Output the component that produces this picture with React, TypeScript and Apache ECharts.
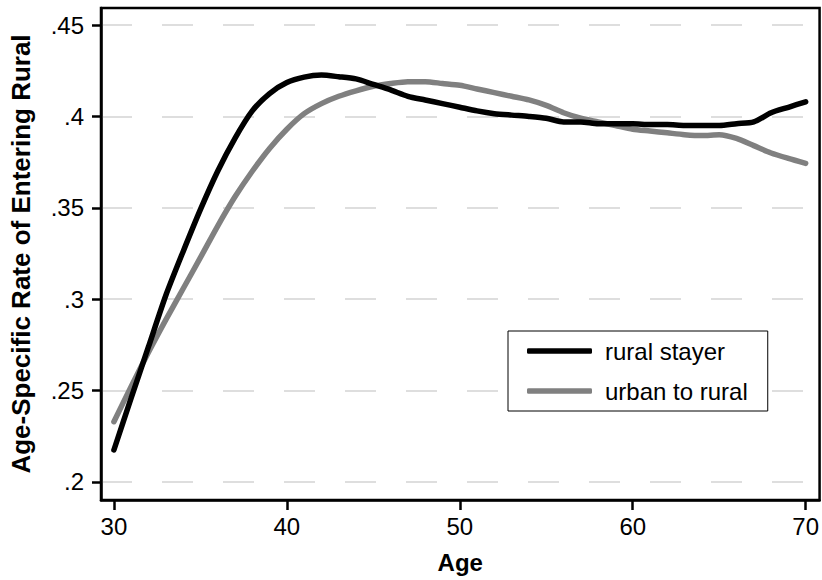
import React, { useEffect, useRef } from "react";
import * as echarts from "echarts";

const ages = [30, 31, 32, 33, 34, 35, 36, 37, 38, 39, 40, 41, 42, 43, 44, 45, 46, 47, 48, 49, 50,
  51, 52, 53, 54, 55, 56, 57, 58, 59, 60, 61, 62, 63, 64, 65, 66, 67, 68, 69, 70];

const ruralStayer = [0.2175, 0.246, 0.274, 0.302, 0.326, 0.349, 0.37, 0.388, 0.403, 0.4125, 0.4185,
  0.4215, 0.4226, 0.4217, 0.4205, 0.4175, 0.4145, 0.411, 0.409, 0.407, 0.405,
  0.403, 0.4015, 0.4007, 0.400, 0.399, 0.397, 0.397, 0.396, 0.396, 0.396,
  0.3955, 0.3955, 0.395, 0.395, 0.395, 0.396, 0.397, 0.402, 0.405, 0.408];

const urbanToRural = [0.233, 0.2523, 0.271, 0.2887, 0.3057, 0.3227, 0.340, 0.356, 0.370, 0.3825, 0.393,
  0.4015, 0.407, 0.411, 0.414, 0.4165, 0.418, 0.419, 0.419, 0.418, 0.417,
  0.415, 0.413, 0.411, 0.409, 0.406, 0.402, 0.399, 0.397, 0.395, 0.393,
  0.392, 0.391, 0.390, 0.3895, 0.390, 0.388, 0.384, 0.380, 0.377, 0.3743];

const xTicks = [30, 40, 50, 60, 70];
const yTicks = [0.2, 0.25, 0.3, 0.35, 0.4, 0.45];
const seriesNames = ["rural stayer", "urban to rural"];
const seriesColors = ["#000000", "#808080"];

const FONT = "'Liberation Sans', Arial, Helvetica, sans-serif";

export default function App() {
  const ref = useRef<HTMLDivElement>(null);
  useEffect(() => {
    if (!ref.current) return;
    const chart = echarts.init(ref.current, undefined, { renderer: "svg" });
    chart.setOption({
      animation: false,
      backgroundColor: "#fff",
      textStyle: { fontFamily: FONT },
      grid: {
        left: 100,
        top: 8,
        width: 724,
        height: 492,
        show: true,
        borderColor: "#000",
        borderWidth: 2.5,
        backgroundColor: "transparent",
      },
      legend: {
        orient: "vertical",
        left: 508,
        top: 331,
        data: seriesNames.map((n) => ({ name: n, icon: "roundRect" })),
        itemWidth: 65,
        itemHeight: 5.5,
        itemGap: 16,
        padding: [8, 20, 8, 19],
        borderColor: "#000",
        borderWidth: 1,
        backgroundColor: "#fff",
        textStyle: { fontSize: 24, color: "#000", fontFamily: FONT, padding: [0, 0, 0, 8] },
      },
      xAxis: {
        type: "value",
        min: 29.254,
        max: 70.804,
        name: "Age",
        nameLocation: "middle",
        nameGap: 50,
        nameTextStyle: { fontSize: 24, fontWeight: "bold", color: "#000", fontFamily: FONT },
        axisLine: { show: true, lineStyle: { color: "#000", width: 2.5 } },
        axisTick: { show: true, length: 10, lineStyle: { color: "#000", width: 2.5 }, customValues: xTicks },
        axisLabel: { fontSize: 24, color: "#000", margin: 14, fontFamily: FONT, customValues: xTicks },
        splitLine: { show: false },
      },
      yAxis: {
        type: "value",
        min: 0.19015,
        max: 0.4593,
        name: "Age-Specific Rate of Entering Rural",
        nameLocation: "middle",
        nameGap: 67,
        nameTextStyle: { fontSize: 26, fontWeight: "bold", color: "#000", fontFamily: FONT },
        axisLine: { show: true, lineStyle: { color: "#000", width: 2.5 } },
        axisTick: { show: true, length: 9, lineStyle: { color: "#000", width: 2.5 }, customValues: yTicks },
        axisLabel: {
          fontSize: 24,
          color: "#000",
          margin: 17,
          fontFamily: FONT,
          customValues: yTicks,
          formatter: (v: number) => String(Number(v.toFixed(4))).replace(/^0\./, "."),
        },
        splitLine: { show: true, lineStyle: { color: "#d4d4d4", width: 1.5, type: [31, 30] } },
      },
      series: [
        {
          name: seriesNames[1],
          type: "line",
          data: ages.map((a, i) => [a, urbanToRural[i]]),
          showSymbol: false,
          symbol: "none",
          smooth: 0.25,
          color: seriesColors[1],
          lineStyle: { width: 5.5, color: seriesColors[1], cap: "round", join: "round" },
          z: 2,
        },
        {
          name: seriesNames[0],
          type: "line",
          data: ages.map((a, i) => [a, ruralStayer[i]]),
          showSymbol: false,
          symbol: "none",
          smooth: 0.25,
          color: seriesColors[0],
          lineStyle: { width: 5.5, color: seriesColors[0], cap: "round", join: "round" },
          z: 3,
        },
      ],
    });
    return () => chart.dispose();
  }, []);
  return (
    <div
      ref={ref}
      style={{ position: "fixed", left: 0, top: 0, width: 822, height: 580, background: "#fff" }}
    />
  );
}
